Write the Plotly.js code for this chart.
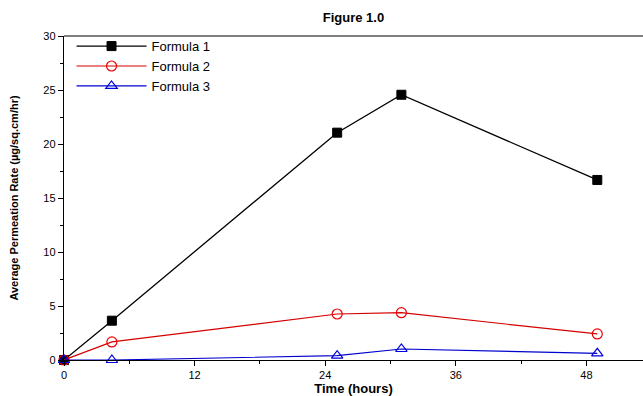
<!DOCTYPE html>
<html>
<head>
<meta charset="utf-8">
<script src="https://cdn.plot.ly/plotly-3.0.1.min.js"></script>
<style>html,body{margin:0;padding:0;background:#fff;}#chart{width:643px;height:396px;}</style>
</head>
<body>
<div id="chart"></div>
<script>
const timeHours = [0, 4.4, 25.1, 31, 49];
const formula1 = [0, 3.64, 21.05, 24.56, 16.67];
const formula2 = [0, 1.67, 4.26, 4.38, 2.41];
const formula3 = [0, 0, 0.4, 1.02, 0.62];
const seriesNames = ['Formula 1', 'Formula 2', 'Formula 3'];
const xTicks = [0, 12, 24, 36, 48];
const yTicks = [0, 5, 10, 15, 20, 25, 30];

const traces = [
  {x: timeHours, y: formula1, name: seriesNames[0], mode: 'lines+markers',
   line: {color: '#000000', width: 1.3},
   marker: {symbol: 'square', size: 9, color: '#000000', line: {color: '#000000', width: 1}},
   cliponaxis: false},
  {x: timeHours, y: formula2, name: seriesNames[1], mode: 'lines+markers',
   line: {color: '#d40000', width: 1.2},
   marker: {symbol: 'circle-open', size: 10, color: '#ee0000', line: {color: '#ee0000', width: 1.2}},
   cliponaxis: false},
  {x: timeHours, y: formula3, name: seriesNames[2], mode: 'lines+markers',
   line: {color: '#0000d0', width: 1.2},
   marker: {symbol: 'triangle-up-open', size: 10, color: '#0000dd', line: {color: '#0000dd', width: 1.2}},
   cliponaxis: false}
];

const layout = {
  width: 643, height: 396,
  margin: {l: 64, r: 0, t: 36, b: 36},
  paper_bgcolor: '#ffffff', plot_bgcolor: '#ffffff',
  font: {family: 'Liberation Sans, Arial, sans-serif', size: 11, color: '#000'},
  title: {text: '<b>Figure 1.0</b>', x: 0.5, xref: 'paper', y: 0.955, yanchor: 'middle',
          font: {size: 13, family: 'Liberation Sans, Arial, sans-serif', color: '#000'}},
  xaxis: {
    range: [0, 53.2], tickvals: xTicks, ticktext: xTicks.map(String),
    ticks: 'outside', ticklen: 5, tickwidth: 1, tickcolor: '#000',
    minor: {dtick: 6, tick0: 0, ticks: 'outside', ticklen: 3, tickcolor: '#000'},
    showgrid: false, zeroline: false, showline: true, linecolor: '#000', linewidth: 1.2,
    tickfont: {size: 11},
    title: {text: '<b>Time (hours)</b>', font: {size: 13}, standoff: 5}
  },
  yaxis: {
    range: [0, 30], tickvals: yTicks, ticktext: yTicks.map(String),
    ticks: 'outside', ticklen: 5, tickwidth: 1, tickcolor: '#000',
    minor: {dtick: 2.5, tick0: 0, ticks: 'outside', ticklen: 3, tickcolor: '#000'},
    showgrid: false, zeroline: false, showline: true, linecolor: '#000', linewidth: 1.2,
    tickfont: {size: 11},
    title: {text: '<b>Average Permeation Rate (µg/sq.cm/hr)</b>', font: {size: 11}, standoff: 22}
  },
  shapes: [{type: 'line', xref: 'paper', yref: 'paper', x0: 0, x1: 1, y0: 1, y1: 1,
            line: {color: '#000', width: 1.2}}],
  legend: {x: 0.013, y: 1.015, xanchor: 'left', yanchor: 'top', bgcolor: 'rgba(0,0,0,0)',
           borderwidth: 0, itemwidth: 70, tracegroupgap: 0,
           font: {size: 13, family: 'Liberation Sans, Arial, sans-serif'}},
  showlegend: true
};

Plotly.newPlot('chart', traces, layout, {displayModeBar: false, staticPlot: true});
</script>
</body>
</html>
